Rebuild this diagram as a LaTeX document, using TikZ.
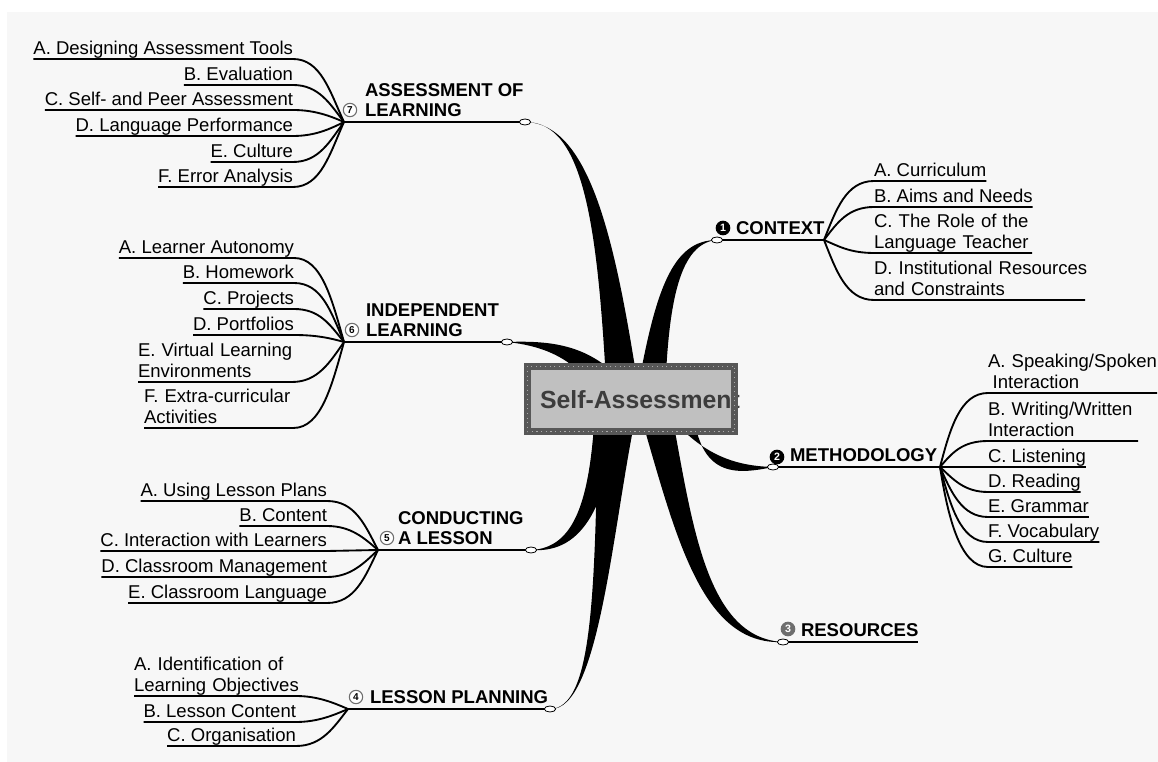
\documentclass[tikz,border=0pt]{standalone}
\usepackage{fontspec}
\setmainfont{Liberation Sans}
\usetikzlibrary{shapes.geometric}
\definecolor{paper}{HTML}{F7F7F7}
\definecolor{boxgray}{HTML}{C0C0C0}
\definecolor{framegray}{HTML}{575757}
\definecolor{dotgray}{HTML}{ABABAB}
\definecolor{inkgray}{HTML}{3C3C3C}
\definecolor{numgray}{HTML}{6E6E6E}
\newcommand{\dn}{\rule[-3pt]{0pt}{3pt}}
\newcommand{\dnt}{\rule[-4.2pt]{0pt}{4.2pt}}

\begin{document}
\begin{tikzpicture}[x=0.75pt,y=-0.75pt,
  sub/.style={inner sep=0pt,outer sep=0pt,font=\fontsize{13.9}{15.75}\selectfont},
  subl/.style={sub,align=left},
  topic/.style={inner sep=0pt,outer sep=0pt,align=left,font=\fontsize{13.9}{15}\selectfont\bfseries},
  link/.style={line width=1.4pt},
  stem/.style={line width=1.7pt},
  knot/.style={ellipse,draw,fill=white,line width=.6pt,minimum width=8.5pt,minimum height=4.5pt,inner sep=0pt},
  numo/.style={circle,draw=numgray,fill=white,line width=.8pt,inner sep=0pt,minimum size=10pt,font=\fontsize{7.5}{7.5}\selectfont\bfseries},
  numf/.style={circle,fill=#1,text=white,inner sep=0pt,minimum size=11pt,font=\fontsize{8}{8}\selectfont\bfseries},
  sabox/.style={rectangle,fill=boxgray,minimum width=155.25pt,minimum height=48.75pt,inner sep=0pt},
  satext/.style={inner sep=0pt,text=inkgray,font=\fontsize{18.6}{20}\selectfont\bfseries}]
\useasboundingbox (0,0) rectangle (1158,762);
\fill[white] (0,0) rectangle (1158,762);
\fill[paper] (7,12) rectangle (1158,762);

\coordinate (c0) at (631,399);
\coordinate (p7) at (525,122);
\coordinate (p6) at (507,342);
\coordinate (p5) at (531,550);
\coordinate (p4) at (550,709);
\coordinate (p1) at (717,240);
\coordinate (p2) at (773,467);
\coordinate (p3) at (783,642);
\coordinate (h7) at (344,122);
\coordinate (h6) at (344,342);
\coordinate (h5) at (378,550);
\coordinate (h4) at (348,709);
\coordinate (h1) at (824,240);
\coordinate (h2) at (940,467);

\fill (p7) .. controls (585,121) and (598,230) .. ([shift={(-24,0)}]c0) -- ([shift={(9,0)}]c0) .. controls (617,250) and (592,123) .. (p7);
\fill (p6) .. controls (560,340) and (592,348) .. ([shift={(-4,-14)}]c0) -- ([shift={(-31,-2)}]c0) .. controls (580,366) and (555,347) .. (p6);
\fill (p5) .. controls (575,548) and (590,500) .. ([shift={(-36,11)}]c0) -- ([shift={(-12,11)}]c0) .. controls (608,502) and (585,554) .. (p5);
\fill (p4) .. controls (592,708) and (595,600) .. ([shift={(-33,11)}]c0) -- ([shift={(6,11)}]c0) .. controls (613,520) and (600,712) .. (p4);
\fill ([shift={(5,0)}]c0) .. controls (655,290) and (672,240) .. (p1) .. controls (680,243) and (668,300) .. ([shift={(34,0)}]c0) -- cycle;
\fill ([shift={(34,11)}]c0) .. controls (700,455) and (735,466) .. (p2) .. controls (735,475) and (700,477) .. ([shift={(62,11)}]c0) -- cycle;
\fill ([shift={(8,11)}]c0) .. controls (675,532) and (700,646) .. (p3) .. controls (705,638) and (692,520) .. ([shift={(40,11)}]c0) -- cycle;

\node[sabox] (sa) at (c0) {};
\node[satext] (sat) at (640,400) {Self-Assessment};
\draw[framegray,line width=5.25pt] (sa.north west) rectangle (sa.south east);
\draw[dotgray,line width=.9pt,dash pattern=on .9pt off 2.6pt] (sa.north west) rectangle (sa.south east);

\node[topic,anchor=south west] (t7) at (365,122) {ASSESSMENT OF\\LEARNING\dnt};
\node[topic,anchor=south west] (t6) at (366,342) {INDEPENDENT\\LEARNING\dnt};
\node[topic,anchor=south west] (t5) at (398,550) {CONDUCTING\\A LESSON\dnt};
\node[topic,anchor=south west] (t4) at (370,709) {LESSON PLANNING\dnt};
\node[topic,anchor=south west] (t1) at (736,240) {CONTEXT\dnt};
\node[topic,anchor=south west] (t2) at (790,467) {METHODOLOGY\dnt};
\node[topic,anchor=south west] (t3) at (801,642) {RESOURCES\dnt};
\node[numo] (n7) at (350,110) {7};
\node[numo] (n6) at (352,330) {6};
\node[numo] (n5) at (387,538) {5};
\node[numo] (n4) at (356,697) {4};
\node[numf=black] (n1) at (723,228) {1};
\node[numf=black] (n2) at (777,457) {2};
\node[numf=numgray] (n3) at (788,629) {3};

\node[sub,anchor=south east] (a7) at (293,59) {A. Designing Assessment Tools\dn};
\node[sub,anchor=south east] (b7) at (293,85) {B. Evaluation\dn};
\node[sub,anchor=south east] (c7) at (293,110) {C. Self- and Peer Assessment\dn};
\node[sub,anchor=south east] (d7) at (293,136) {D. Language Performance\dn};
\node[sub,anchor=south east] (e7) at (293,162) {E. Culture\dn};
\node[sub,anchor=south east] (f7) at (293,187) {F. Error Analysis\dn};

\node[sub,anchor=south east] (a6) at (294,258) {A. Learner Autonomy\dn};
\node[sub,anchor=south east] (b6) at (294,283) {B. Homework\dn};
\node[sub,anchor=south east] (c6) at (294,309) {C. Projects\dn};
\node[sub,anchor=south east] (d6) at (294,335) {D. Portfolios\dn};
\node[subl,anchor=south west,text width=115.5pt] (e6) at (138,382) {\mbox{E. Virtual Learning}\\\mbox{Environments}\dn};
\node[subl,anchor=south west,text width=112pt] (f6) at (144,428) {\mbox{F. Extra-curricular}\\\mbox{Activities}\dn};

\node[sub,anchor=south east] (a5) at (327,501) {A. Using Lesson Plans\dn};
\node[sub,anchor=south east] (b5) at (327,526) {B. Content\dn};
\node[sub,anchor=south east] (c5) at (327,551) {C. Interaction with Learners\dn};
\node[sub,anchor=south east] (d5) at (327,577) {D. Classroom Management\dn};
\node[sub,anchor=south east] (e5) at (327,603) {E. Classroom Language\dn};

\node[subl,anchor=south west,text width=121.5pt] (a4) at (134,696) {\mbox{A. Identification of}\\\mbox{Learning Objectives}\dn};
\node[sub,anchor=south east] (b4) at (296,722) {B. Lesson Content\dn};
\node[sub,anchor=south east] (c4) at (296,746) {C. Organisation\dn};

\node[sub,anchor=south west] (a1) at (874,181) {A. Curriculum\dn};
\node[sub,anchor=south west] (b1) at (874,207) {B. Aims and Needs\dn};
\node[subl,anchor=south west,text width=118.5pt] (c1) at (874,253) {\mbox{C. The Role of the}\\\mbox{Language Teacher}\dn};
\node[subl,anchor=south west,text width=158.25pt] (d1) at (874,300) {\mbox{D. Institutional Resources}\\\mbox{and Constraints}\dn};

\node[subl,anchor=south west,text width=126.75pt] (a2) at (988,393) {\mbox{A. Speaking/Spoken}\\\hspace*{3.5pt}\mbox{Interaction}\dn};
\node[subl,anchor=south west,text width=112.5pt] (b2) at (988,441) {\mbox{B. Writing/Written}\\\mbox{Interaction}\dn};
\node[sub,anchor=south west] (c2) at (988,467) {C. Listening\dn};
\node[sub,anchor=south west] (d2) at (988,492) {D. Reading\dn};
\node[sub,anchor=south west] (e2) at (988,517) {E. Grammar\dn};
\node[sub,anchor=south west] (f2) at (988,542) {F. Vocabulary\dn};
\node[sub,anchor=south west] (g2) at (988,567) {G. Culture\dn};

\draw[link] (a7.south west) -- (a7.south east) .. controls +(28,0) and +(-14,-30) .. (h7);
\draw[link] (b7.south west) -- (b7.south east) .. controls +(26,0) and +(-14,-18) .. (h7);
\draw[link] (c7.south west) -- (c7.south east) .. controls +(22,0) and +(-14,-6) .. (h7);
\draw[link] (d7.south west) -- (d7.south east) .. controls +(22,0) and +(-14,7) .. (h7);
\draw[link] (e7.south west) -- (e7.south east) .. controls +(26,0) and +(-14,19) .. (h7);
\draw[link] (f7.south west) -- (f7.south east) .. controls +(28,0) and +(-14,31) .. (h7);

\draw[link] (a6.south west) -- (a6.south east) .. controls +(28,0) and +(-12,-42) .. (h6);
\draw[link] (b6.south west) -- (b6.south east) .. controls +(28,0) and +(-13,-30) .. (h6);
\draw[link] (c6.south west) -- (c6.south east) .. controls +(26,0) and +(-14,-17) .. (h6);
\draw[link] (d6.south west) -- (d6.south east) .. controls +(22,0) and +(-14,-4) .. (h6);
\draw[link] (e6.south west) -- (e6.south east) .. controls +(26,0) and +(-14,20) .. (h6);
\draw[link] (f6.south west) -- (f6.south east) .. controls +(28,0) and +(-12,43) .. (h6);

\draw[link] (a5.south west) -- (a5.south east) .. controls +(28,0) and +(-13,-25) .. (h5);
\draw[link] (b5.south west) -- (b5.south east) .. controls +(24,0) and +(-14,-12) .. (h5);
\draw[link] (c5.south west) -- (c5.south east) -- (h5);
\draw[link] (d5.south west) -- (d5.south east) .. controls +(24,0) and +(-14,13) .. (h5);
\draw[link] (e5.south west) -- (e5.south east) .. controls +(28,0) and +(-13,27) .. (h5);

\draw[link] (a4.south west) -- (a4.south east) .. controls +(22,0) and +(-14,-6) .. (h4);
\draw[link] (b4.south west) -- (b4.south east) .. controls +(22,0) and +(-14,6) .. (h4);
\draw[link] (c4.south west) -- (c4.south east) .. controls +(26,0) and +(-14,18) .. (h4);

\draw[link] (h1) .. controls +(12,-30) and +(-28,0) .. (a1.south west) -- (a1.south east);
\draw[link] (h1) .. controls +(13,-17) and +(-26,0) .. (b1.south west) -- (b1.south east);
\draw[link] (h1) .. controls +(14,6) and +(-24,0) .. (c1.south west) -- (c1.south east);
\draw[link] (h1) .. controls +(12,30) and +(-28,0) .. (d1.south west) -- (d1.south east);

\draw[link] (h2) .. controls +(10,-38) and +(-28,0) .. (a2.south west) -- (a2.south east);
\draw[link] (h2) .. controls +(12,-14) and +(-26,0) .. (b2.south west) -- (b2.south east);
\draw[link] (h2) -- (c2.south west) -- (c2.south east);
\draw[link] (h2) .. controls +(13,12) and +(-24,0) .. (d2.south west) -- (d2.south east);
\draw[link] (h2) .. controls +(11,25) and +(-26,0) .. (e2.south west) -- (e2.south east);
\draw[link] (h2) .. controls +(10,37) and +(-28,0) .. (f2.south west) -- (f2.south east);
\draw[link] (h2) .. controls +(8,50) and +(-28,0) .. (g2.south west) -- (g2.south east);

\draw[stem] (p7) -- (h7);
\draw[stem] (p6) -- (h6);
\draw[stem] (p5) -- (h5);
\draw[stem] (p4) -- (h4);
\draw[stem] (p1) -- (h1);
\draw[stem] (p2) -- (h2);
\draw[stem] (p3) -- (t3.south east);

\node[knot] (k7) at (p7) {};
\node[knot] (k6) at (p6) {};
\node[knot] (k5) at (p5) {};
\node[knot] (k4) at (p4) {};
\node[knot] (k1) at (p1) {};
\node[knot] (k2) at (p2) {};
\node[knot] (k3) at (p3) {};
\end{tikzpicture}
\end{document}
